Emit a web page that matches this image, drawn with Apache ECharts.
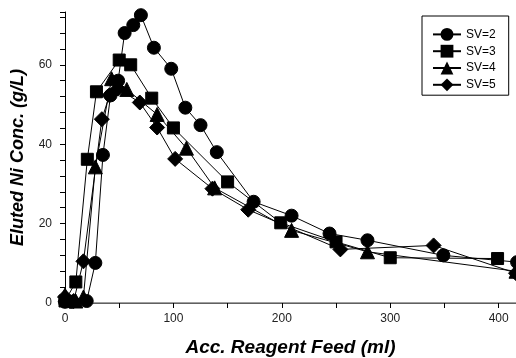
<!DOCTYPE html>
<html>
<head>
<meta charset="utf-8">
<script src="https://cdn.jsdelivr.net/npm/echarts@6/dist/echarts.min.js"></script>
<style>
  html, body { margin: 0; padding: 0; background: #fff; }
  #chart { width: 516px; height: 358px; }
</style>
</head>
<body>
<div id="chart"></div>
<script>
  // values
  var sv2X = [0, 6, 20, 28, 35, 42, 49, 55, 63, 70, 82, 98, 111, 125, 140, 174, 209, 244, 279, 349, 417];
  var sv2Y = [0.3, 0.3, 0.5, 10.1, 37.3, 52.3, 56, 68, 70, 72.5, 64.3, 59, 49.2, 44.8, 38, 25.5, 22, 17.5, 15.8, 12, 10.3];

  var sv3X = [0, 10, 20.6, 29, 50, 60.6, 80, 100, 150, 199, 250, 300, 399];
  var sv3Y = [0.5, 5.3, 36.2, 53.2, 61.2, 60, 51.6, 44.1, 30.5, 20.2, 15.4, 11.4, 11.2];

  var sv4X = [0, 10, 17, 28, 43, 57, 85, 112, 138, 209, 279, 416];
  var sv4Y = [2, 0.5, 1.5, 34.3, 56.5, 53.8, 47.5, 39, 29, 18.3, 12.9, 8];

  var sv5X = [0, 8, 17, 34, 41, 49, 69, 85, 101.6, 136, 169, 254, 340, 416];
  var sv5Y = [1.5, 0.5, 10.5, 46.3, 52.3, 54, 50.5, 44.2, 36.3, 28.8, 23.5, 13.5, 14.5, 7.5];

  var seriesNames = ['SV=2', 'SV=3', 'SV=4', 'SV=5'];
  var symbols = ['circle', 'rect', 'triangle', 'diamond'];
  var symbolSizes = [13, 12, 14, 15];
  var xTickLabels = [0, 100, 200, 300, 400];
  var yTickLabels = [0, 20, 40, 60];

  function pairs(xs, ys) {
    return xs.map(function (x, i) { return [x, ys[i]]; });
  }

  var allData = [pairs(sv2X, sv2Y), pairs(sv3X, sv3Y), pairs(sv4X, sv4Y), pairs(sv5X, sv5Y)];

  var chart = echarts.init(document.getElementById('chart'));

  chart.setOption({
    animation: false,
    textStyle: { fontFamily: 'Liberation Sans' },
    grid: { left: 65, top: 12, right: 0, bottom: 55, containLabel: false, outerBoundsMode: 'none' },
    legend: {
      orient: 'vertical',
      left: 422,
      top: 16,
      padding: [12, 13, 4, 10],
      itemGap: 4,
      itemWidth: 28,
      itemHeight: 16,
      borderColor: '#000',
      borderWidth: 1,
      backgroundColor: '#fff',
      textStyle: { fontSize: 12, color: '#000', fontFamily: 'Liberation Sans' },
      data: seriesNames
    },
    xAxis: [{
      type: 'value',
      min: 0,
      max: 416,
      interval: 50,
      splitLine: { show: false },
      axisLine: { onZero: false, lineStyle: { color: '#000', width: 1 } },
      axisTick: { inside: false, length: 5, lineStyle: { color: '#000' } },
      axisLabel: {
        margin: 10,
        fontSize: 12,
        color: '#222',
        formatter: function (v) { return xTickLabels.indexOf(v) >= 0 ? String(v) : ''; }
      },
      name: 'Acc. Reagent Feed (ml)',
      nameLocation: 'middle',
      nameGap: 35,
      nameTextStyle: { fontSize: 19, fontWeight: 'bold', fontStyle: 'italic', color: '#000', fontFamily: 'Liberation Sans' }
    }, {
      type: 'value',
      position: 'top',
      min: 0,
      max: 416,
      axisLine: { show: true, lineStyle: { color: '#808080', width: 1.5 } },
      axisTick: { show: false },
      axisLabel: { show: false },
      splitLine: { show: false }
    }],
    yAxis: {
      type: 'value',
      min: 0,
      max: 73.3,
      interval: 4,
      splitLine: { show: false },
      axisLine: { show: true, onZero: false, lineStyle: { color: '#000', width: 1 } },
      axisTick: { show: true, inside: false, length: 5, lineStyle: { color: '#000' } },
      axisLabel: {
        margin: 13,
        fontSize: 12,
        color: '#222',
        formatter: function (v) { return yTickLabels.indexOf(v) >= 0 ? String(v) : ''; }
      },
      name: 'Eluted Ni Conc. (g/L)',
      nameLocation: 'middle',
      nameGap: 38,
      nameTextStyle: { fontSize: 18, fontWeight: 'bold', fontStyle: 'italic', color: '#000', fontFamily: 'Liberation Sans' }
    },
    series: allData.map(function (d, i) {
      return {
        name: seriesNames[i],
        type: 'line',
        data: d,
        symbol: symbols[i],
        symbolSize: symbolSizes[i],
        showAllSymbol: true,
        clip: false,
        lineStyle: { color: '#000', width: 1 },
        itemStyle: { color: '#000', borderColor: '#000' }
      };
    })
  });
</script>
</body>
</html>
